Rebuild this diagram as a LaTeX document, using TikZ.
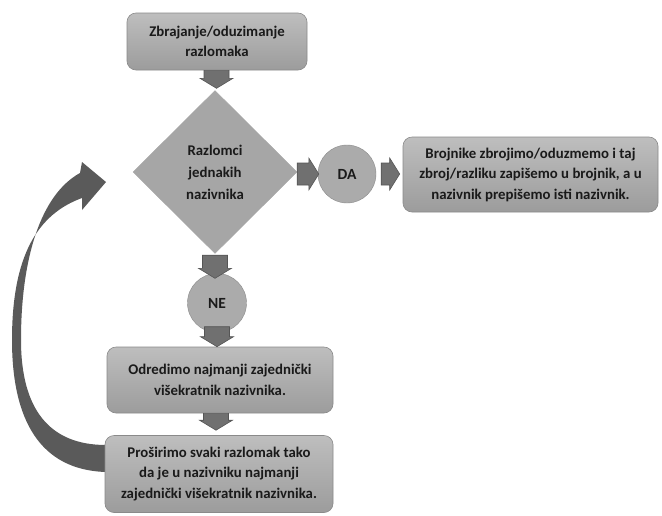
\documentclass[tikz,border=0pt]{standalone}
\usepackage{fontspec}
\setmainfont{Carlito}
\usetikzlibrary{shapes.geometric,calc}
\definecolor{boxtop}{HTML}{BEBEBE}
\definecolor{boxbot}{HTML}{9C9C9C}
\definecolor{boxline}{HTML}{8A8A8A}
\definecolor{diafill}{HTML}{A6A6A6}
\definecolor{circfill}{HTML}{ABABAB}
\definecolor{arrfill}{HTML}{707070}
\definecolor{arrline}{HTML}{555555}
\definecolor{curvefill}{HTML}{5A5A5A}
\definecolor{txt}{HTML}{1A1A1A}
\tikzset{
  box/.style={draw=boxline, line width=0.6pt, rounded corners=9pt, top color=boxtop, bottom color=boxbot,
    text=txt, font=\bfseries\fontsize{14.8}{20.5}\selectfont, align=center, inner sep=0pt},
  dec/.style={diamond, draw=diafill, fill=diafill, minimum width=164pt, minimum height=163pt, inner sep=0pt,
    text=txt, font=\bfseries\fontsize{14.8}{22}\selectfont, align=center},
  circ/.style={circle, draw=boxline, line width=0.4pt, fill=circfill, inner sep=0pt, text=txt,
    font=\bfseries\fontsize{15.5}{18}\selectfont},
  blk/.style={fill=arrfill, draw=arrline, line width=0.6pt},
  varrow/.style={blk, to path={let \p1=(\tikztostart), \p2=(\tikztotarget) in
    (\x1-12.5pt,\y1) -- (\x1+12.5pt,\y1) -- (\x1+12.5pt,\y2+10pt) -- (\x1+16.5pt,\y2+10pt)
    -- (\x1,\y2) -- (\x1-16.5pt,\y2+10pt) -- (\x1-12.5pt,\y2+10pt) -- cycle}},
  harrow/.style={blk, to path={let \p1=(\tikztostart), \p2=(\tikztotarget) in
    (\x1,\y1+11pt) -- (\x2-10pt,\y1+11pt) -- (\x2-10pt,\y1+16pt) -- (\x2,\y1)
    -- (\x2-10pt,\y1-16pt) -- (\x2-10pt,\y1-11pt) -- (\x1,\y1-11pt) -- cycle}},
}
\begin{document}
\begin{tikzpicture}[x=1pt,y=-1pt]
\useasboundingbox (0,0) rectangle (662,515);
\fill[white] (0,0) rectangle (662,515);

% curved feedback arrow
\fill[curvefill] (106,472) .. controls (40,470) and (12,420) .. (12,340)
  .. controls (12,255) and (38,214) .. (82,198)
  -- (82,210) -- (106,182) -- (82,162) -- (80,173)
  .. controls (40,195) and (21,260) .. (21,340)
  .. controls (21,410) and (50,445) .. (106,445) -- cycle;

\node[box, minimum width=180pt, minimum height=57pt] (start) at (217,41.5)
  {Zbrajanje/oduzimanje\\razlomaka};
\node[dec] (dia) at (215,172) {Razlomci\\jednakih\\nazivnika};
\node[circ, minimum size=58pt] (da) at (347,174) {DA};
\node[box, minimum width=255pt, minimum height=75pt] (yes) at (530.5,174.5)
  {Brojnike zbrojimo/oduzmemo i taj\\zbroj/razliku zapišemo u brojnik, a u\\nazivnik prepišemo isti nazivnik.};
\node[circ, minimum size=59pt] (ne) at (217,303) {NE};
\node[box, minimum width=226pt, minimum height=66pt] (lcm) at (220,380)
  {Odredimo najmanji zajednički\\višekratnik nazivnika.};
\node[box, minimum width=228pt, minimum height=77pt] (ext) at (219,474)
  {Proširimo svaki razlomak tako\\da je u nazivniku najmanji\\zajednički višekratnik nazivnika.};

\draw[varrow] ([xshift=-0.5pt]start.south) to ([yshift=2pt]dia.north);
\draw[varrow] ([yshift=-1.5pt]dia.south) to ([yshift=-5pt]ne.north);
\draw[varrow] ([yshift=6pt]ne.south) to (lcm.north);
\draw[varrow] ([xshift=-4pt]lcm.south) to ([xshift=-4pt,yshift=5pt]ext.north);
\draw[harrow] (dia.east |- da.center) to ([xshift=1pt]da.west);
\draw[harrow] ([xshift=5pt]da.east) to ([xshift=-3pt]yes.west |- da.center);
\end{tikzpicture}
\end{document}
